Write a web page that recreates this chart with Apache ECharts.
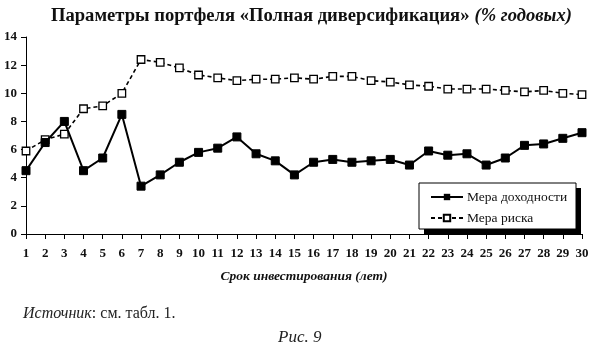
<!DOCTYPE html>
<html><head><meta charset="utf-8">
<script src="https://cdn.jsdelivr.net/npm/echarts@6/dist/echarts.min.js"></script>
<style>html,body{margin:0;padding:0;background:#fff}#c{width:595px;height:346px}</style>
</head><body><div id="c"></div>
<script>
var years = ['1','2','3','4','5','6','7','8','9','10','11','12','13','14','15','16','17','18','19','20','21','22','23','24','25','26','27','28','29','30'];
var returnMeasure = [4.5,6.5,8.0,4.5,5.4,8.5,3.4,4.2,5.1,5.8,6.1,6.9,5.7,5.2,4.2,5.1,5.3,5.1,5.2,5.3,4.9,5.9,5.6,5.7,4.9,5.4,6.3,6.4,6.8,7.2];
var riskMeasure = [5.9,6.7,7.1,8.9,9.1,10.0,12.4,12.2,11.8,11.3,11.1,10.9,11.0,11.0,11.1,11.0,11.2,11.2,10.9,10.8,10.6,10.5,10.3,10.3,10.3,10.2,10.1,10.2,10.0,9.9];
var yTicks = [0,2,4,6,8,10,12,14];
var serif = '"Liberation Serif", "DejaVu Serif", serif';
var chart = echarts.init(document.getElementById('c'), null, {renderer:'canvas'});
chart.setOption({
  animation:false,
  backgroundColor:'#fff',
  grid:{left:26,right:13,top:37,bottom:112,containLabel:false},
  title:[
    {text:'{b|Параметры портфеля «Полная диверсификация»} {i|(% годовых)}', left:46, top:2,
     textStyle:{rich:{b:{fontFamily:serif,fontWeight:'bold',fontSize:18.6,color:'#111'},i:{fontFamily:serif,fontStyle:'italic',fontSize:18.6,color:'#111'}}}},
    {text:'{i|Источник}: см. табл. 1.', left:18, top:301,
     textStyle:{fontFamily:serif,fontSize:16,fontWeight:'normal',color:'#222',rich:{i:{fontFamily:serif,fontStyle:'italic',fontSize:16,color:'#222'}}}},
    {text:'Рис. 9', left:273, top:324, textStyle:{fontFamily:serif,fontStyle:'italic',fontWeight:'normal',fontSize:17,color:'#222'}}
  ],
  legend:{
    orient:'vertical', left:430, top:190, z:20,
    padding:0, itemGap:7, itemWidth:32, itemHeight:8,
    textStyle:{fontFamily:serif,fontSize:13.5,color:'#111',padding:[0,0,0,-1]},
    data:['Мера доходности','Мера риска']
  },
  xAxis:{
    type:'category', data:years, boundaryGap:false,
    name:'Срок инвестирования (лет)', nameLocation:'middle', nameGap:36,
    nameTextStyle:{fontFamily:serif,fontStyle:'italic',fontWeight:'bold',fontSize:13.5,color:'#111'},
    axisLine:{lineStyle:{color:'#000',width:1}},
    axisTick:{show:true,alignWithLabel:true,length:5,lineStyle:{color:'#000'}},
    axisLabel:{fontFamily:serif,fontWeight:'bold',fontSize:13,color:'#111',margin:13,interval:0},
    splitLine:{show:false}
  },
  yAxis:{
    type:'value', min:0, max:14, interval:2,
    axisLine:{show:true,lineStyle:{color:'#000',width:1}},
    axisTick:{show:true,length:5,lineStyle:{color:'#000'}},
    axisLabel:{fontFamily:serif,fontWeight:'bold',fontSize:13,color:'#111',margin:9,
      formatter:function(v){return yTicks.indexOf(v)>=0?String(v):'';}},
    splitLine:{show:false}
  },
  series:[
    {name:'Мера доходности', type:'line', data:returnMeasure, symbol:'rect', symbolSize:8,
     lineStyle:{color:'#000',width:2}, itemStyle:{color:'#000',borderColor:'#000'}, z:3},
    {name:'Мера риска', type:'line', data:riskMeasure, symbol:'rect', symbolSize:7.5,
     lineStyle:{color:'#000',width:1.6,type:[4,3]}, itemStyle:{color:'#fff',borderColor:'#000',borderWidth:1.3}, z:2}
  ],
  graphic:{elements:[
    {type:'rect', shape:{x:424,y:188,width:157,height:46}, style:{fill:'#000'}, z:10},
    {type:'rect', shape:{x:419,y:183,width:157,height:46}, style:{fill:'#fff',stroke:'#000',lineWidth:1}, z:11}
  ]}
});
</script></body></html>
